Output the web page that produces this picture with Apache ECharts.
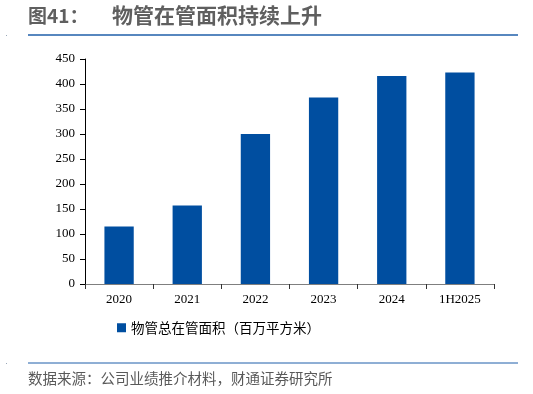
<!DOCTYPE html>
<html><head><meta charset="utf-8">
<script src="https://cdn.jsdelivr.net/npm/echarts@6/dist/echarts.min.js"></script>
<style>html,body{margin:0;padding:0;background:#fff}#c{width:533px;height:394px}</style>
</head><body><div id="c"></div>
<script>
const categories = ['2020','2021','2022','2023','2024','1H2025'];
const areaValues = [115, 157, 300, 373, 416, 423];
const seriesName = '物管总在管面积（百万平方米）';
const titleLabel = '图41：';
const titleText = '物管在管面积持续上升';
const sourceText = '数据来源：公司业绩推介材料，财通证券研究所';

const chart = echarts.init(document.getElementById('c'));
chart.setOption({
  animation: false,
  backgroundColor: '#fff',
  grid: {left: 85, right: 39, top: 59, bottom: 110},
  legend: {
    data: [seriesName], left: 112, top: 316, itemWidth: 9, itemHeight: 9, itemGap: 3,
    icon: 'rect',
    textStyle: {fontFamily: 'Noto Sans CJK SC', fontSize: 13.5, color: '#000'}
  },
  xAxis: {
    type: 'category', data: categories,
    axisLine: {lineStyle: {color: '#7f7f7f', width: 1}},
    axisTick: {show: true, length: 5, lineStyle: {color: '#333'}},
    axisLabel: {fontFamily: 'Liberation Serif', fontSize: 13, color: '#000', margin: 9}
  },
  yAxis: {
    type: 'value', min: 0, max: 450, interval: 50,
    axisLine: {show: true, lineStyle: {color: '#000'}},
    axisTick: {show: true, length: 5, lineStyle: {color: '#000'}},
    splitLine: {show: false},
    axisLabel: {fontFamily: 'Liberation Serif', fontSize: 13, color: '#000', margin: 10}
  },
  series: [{
    name: seriesName, type: 'bar', data: areaValues, barWidth: '43%',
    itemStyle: {color: '#004EA0'}
  }],
  graphic: [
    {type: 'text', left: 28, top: 6, style: {text: titleLabel, fontFamily: 'Noto Sans CJK SC', fontSize: 19, fontWeight: 'bold', fill: '#5f5f5f'}},
    {type: 'text', left: 112, top: 5, style: {text: titleText, fontFamily: 'Noto Sans CJK SC', fontSize: 21, fontWeight: 'bold', fill: '#5f5f5f'}},
    {type: 'line', shape: {x1: 28, y1: 35, x2: 518, y2: 35}, style: {stroke: '#1F5FAA', lineWidth: 1.5}},
    {type: 'line', shape: {x1: 28, y1: 363, x2: 518, y2: 363}, style: {stroke: '#1F5FAA', lineWidth: 1}},
    {type: 'rect', shape: {x: 6, y: 35, width: 1, height: 1}, style: {fill: '#9aa8b8'}},
    {type: 'rect', shape: {x: 6, y: 363, width: 1, height: 1}, style: {fill: '#9aa8b8'}},
    {type: 'text', left: 28, top: 371, style: {text: sourceText, fontFamily: 'Noto Sans CJK SC', fontSize: 14.5, fill: '#595959'}}
  ]
});
</script></body></html>
